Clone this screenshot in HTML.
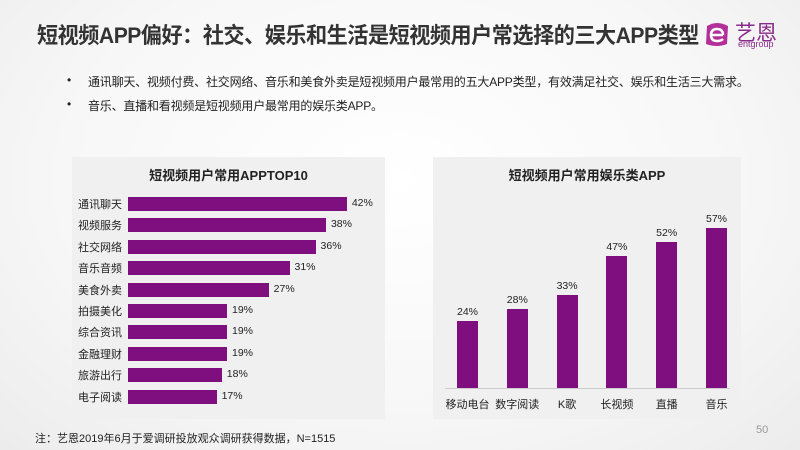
<!DOCTYPE html>
<html><head><meta charset="utf-8"><style>
*{margin:0;padding:0;box-sizing:border-box}
body{width:800px;height:450px;overflow:hidden;position:relative;font-family:"Liberation Sans","Noto Sans CJK SC",sans-serif;background:radial-gradient(ellipse at 50% 40%,#ffffff 0%,#f7f7f7 60%,#ececec 100%);color:#222}
.a{position:absolute;white-space:nowrap}
.panel{position:absolute;background:#f0f0f0}
.bar{position:absolute;background:#7f0f7e}
.lbl{position:absolute;font-size:11px;color:#222;white-space:nowrap}
</style></head><body>
<div class="a" style="left:37px;top:18px;font-size:22px;font-weight:bold;color:#333;letter-spacing:-0.5px;transform:scaleX(0.96);transform-origin:left top">短视频APP偏好：社交、娱乐和生活是短视频用户常选择的三大APP类型</div>
<svg class="a" style="left:703px;top:22px" width="28" height="26" viewBox="0 0 28 26"><path d="M4 4 Q14 -2 25 4 L24 22 Q14 26 3 22 Z" fill="#b3309a"/><path d="M8 13 H20 M20 13 Q20 7 14 7 Q8 7 8 13 Q8 19 14 19 Q18 19 20 17" stroke="#fff" stroke-width="2.5" fill="none"/></svg>
<div class="a" style="left:735px;top:17px;font-size:21px;color:#8a2a8a">艺恩</div>
<div class="a" style="left:738px;top:39px;font-size:9px;color:#8a2a8a">entgroup</div>
<div class="a" style="left:67px;top:73px;font-size:12px">•</div>
<div class="a" style="left:88px;top:73px;font-size:12px;letter-spacing:-0.2px">通讯聊天、视频付费、社交网络、音乐和美食外卖是短视频用户最常用的五大APP类型，有效满足社交、娱乐和生活三大需求。</div>
<div class="a" style="left:67px;top:97px;font-size:12px">•</div>
<div class="a" style="left:88px;top:97px;font-size:12px;letter-spacing:-0.2px">音乐、直播和看视频是短视频用户最常用的娱乐类APP。</div>

<div class="panel" style="left:72px;top:157px;width:313px;height:262px"></div>
<div class="a" style="left:72px;top:165px;width:313px;text-align:center;font-size:13px;font-weight:bold">短视频用户常用APPTOP10</div>

<div class="panel" style="left:433px;top:157px;width:308px;height:262px"></div>
<div class="a" style="left:433px;top:165px;width:308px;text-align:center;font-size:13px;font-weight:bold">短视频用户常用娱乐类APP</div>
<div class="a" style="left:445px;top:388px;width:285px;height:1px;background:#ccc"></div>

<div id="L"></div><div id="R"></div>
<div class="a" style="left:35px;top:430px;font-size:11px">注：艺恩2019年6月于爱调研投放观众调研获得数据，N=1515</div>
<div class="a" style="left:756px;top:424px;font-size:11px;color:#999">50</div>
<script>
var l=[["通讯聊天",42],["视频服务",38],["社交网络",36],["音乐音频",31],["美食外卖",27],["拍摄美化",19],["综合资讯",19],["金融理财",19],["旅游出行",18],["电子阅读",17]];
var h="";
l.forEach(function(d,i){var y=197+i*21.4;var w=d[1]*5.21;
h+='<div class="lbl" style="left:78px;top:'+(y-1)+'px">'+d[0]+'</div>';
h+='<div class="bar" style="left:128px;top:'+y+'px;width:'+w+'px;height:14px"></div>';
h+='<div class="lbl" style="left:'+(133+w)+'px;top:'+(y)+'px;font-size:10.5px">'+d[1]+'%</div>';});
document.getElementById("L").innerHTML=h;
var r=[["移动电台",24],["数字阅读",28],["K歌",33],["长视频",47],["直播",52],["音乐",57]];
h="";
r.forEach(function(d,i){var x=457+i*49.8;var hh=d[1]*2.81;
h+='<div class="bar" style="left:'+x+'px;top:'+(388-hh)+'px;width:21px;height:'+hh+'px"></div>';
h+='<div class="lbl" style="left:'+(x-20)+'px;width:61px;text-align:center;top:'+(388-hh-15)+'px;font-size:10.5px">'+d[1]+'%</div>';
h+='<div class="lbl" style="left:'+(x-20)+'px;width:61px;text-align:center;top:396px">'+d[0]+'</div>';});
document.getElementById("R").innerHTML=h;
</script>
</body></html>
